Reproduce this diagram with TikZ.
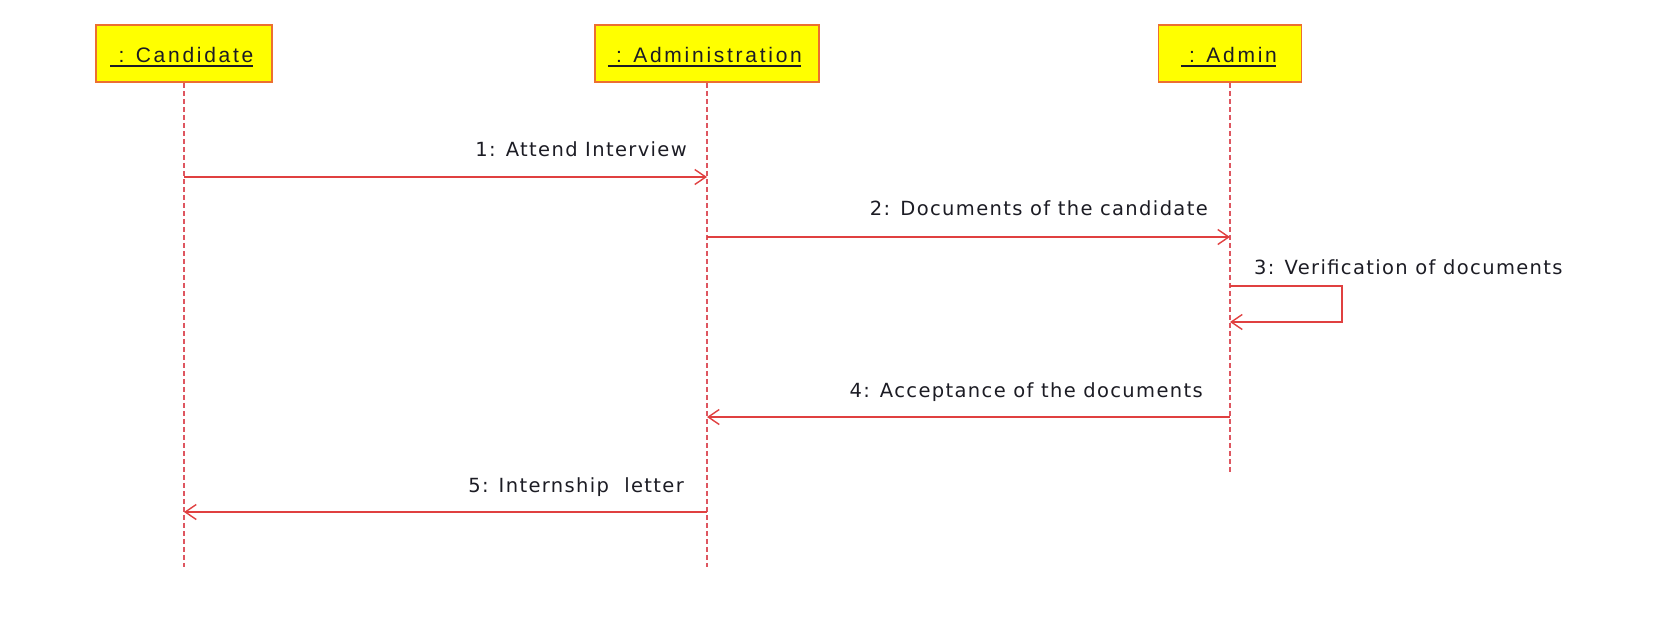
\documentclass[tikz,border=0pt]{standalone}
\usepackage{fontspec}
\setmainfont{DejaVu Sans}[LetterSpace=7]
\newfontfamily\boxfont{Liberation Sans}[LetterSpace=13]
\usetikzlibrary{arrows.meta}
\definecolor{boxfill}{RGB}{255,255,0}
\definecolor{boxline}{RGB}{236,112,48}
\definecolor{lifered}{RGB}{222,86,96}
\definecolor{msgred}{RGB}{224,64,64}
\definecolor{txt}{RGB}{28,28,36}
\tikzset{
  objbox/.style={draw=boxline, fill=boxfill, line width=1.6pt, minimum height=57pt, inner sep=0pt},
  objlabel/.style={font=\boxfont\fontsize{21}{25}\selectfont, text=txt, inner sep=0pt, anchor=base},
  uline/.style={draw=txt, line width=1.8pt},
  lifeline/.style={draw=lifered, line width=1.5pt, dash pattern=on 5pt off 3pt},
  msg/.style={draw=msgred, line width=1.4pt, -{Straight Barb[length=11pt,width=15pt,line width=1.4pt]}},
  msglabel/.style={font=\fontsize{19.5}{23}\selectfont, text=txt, inner sep=0pt}
}
\begin{document}
\begin{tikzpicture}[x=1pt,y=-1pt]
\useasboundingbox (0,0) rectangle (1655,622);
% objects
\node[objbox, minimum width=176pt] (cand) at (184,53.5) {};
\node[objbox, minimum width=224pt] (adm) at (707,53.5) {};
\node[objbox, minimum width=143pt] (admn) at (1230,53.5) {};
\node[objlabel] (candl) at (186,62) {: Candidate};
\node[objlabel] (adml) at (709,62) {: Administration};
\node[objlabel] (admnl) at (1233,62) {: Admin};
\draw[uline] ([xshift=-8pt,yshift=-4pt]candl.base west) -- ([xshift=-1pt,yshift=-4pt]candl.base east);
\draw[uline] ([xshift=-8pt,yshift=-4pt]adml.base west) -- ([xshift=-1pt,yshift=-4pt]adml.base east);
\draw[uline] ([xshift=-8pt,yshift=-4pt]admnl.base west) -- ([xshift=-1pt,yshift=-4pt]admnl.base east);
% lifelines
\coordinate (candend) at (184,567);
\coordinate (admend) at (707,567);
\coordinate (admnend) at (1230,473);
\draw[lifeline] (cand.south) -- (candend);
\draw[lifeline] (adm.south) -- (admend);
\draw[lifeline] (admn.south) -- (admnend);
% message rows
\coordinate (m1) at (0,177);
\coordinate (m2) at (0,237);
\coordinate (m3) at (0,286);
\coordinate (s3) at (1342,322);
\coordinate (m4) at (0,417);
\coordinate (m5) at (0,512);
\draw[msg] (cand |- m1) -- (adm |- m1);
\draw[msg] (adm |- m2) -- (admn |- m2);
\draw[msg] (admn |- m3) -| (s3) -- (admn |- s3);
\draw[msg] (admn |- m4) -- (adm |- m4);
\draw[msg] (adm |- m5) -- (cand |- m5);
% labels
\node[msglabel, anchor=base east] (l1) at (687,156) {1: Attend Interview};
\node[msglabel, anchor=base east] (l2) at (1208,215) {2: Documents of the candidate};
\node[msglabel, anchor=base west] (l3) at (1254,274) {3: Verification of documents};
\node[msglabel, anchor=base east] (l4) at (1203,397) {4: Acceptance of the documents};
\node[msglabel, anchor=base east] (l5) at (684,492) {5: Internship\ \ letter};
\end{tikzpicture}
\end{document}
